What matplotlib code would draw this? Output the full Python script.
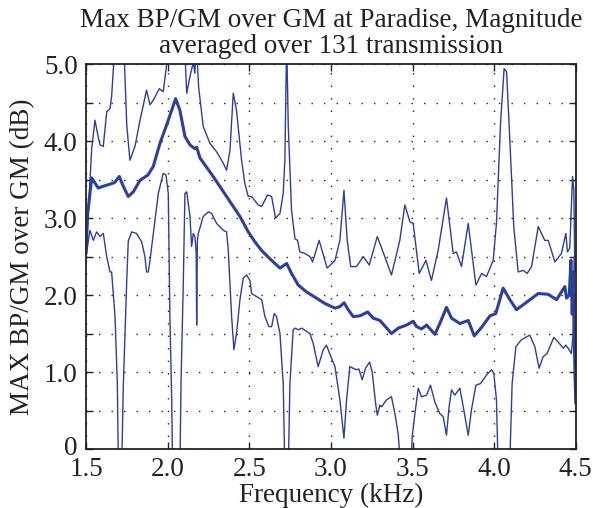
import matplotlib
matplotlib.use("Agg")
import matplotlib.pyplot as plt
from matplotlib.ticker import MultipleLocator, FixedLocator
from matplotlib.transforms import ScaledTranslation

plt.rcParams['font.family'] = ['Liberation Serif', 'DejaVu Serif']

title_text = "Max BP/GM over GM at Paradise, Magnitude\naveraged over 131 transmission"
xlabel_text = "Frequency (kHz)"
ylabel_text = "MAX BP/GM over GM (dB)"
xticks = [1.5, 2.0, 2.5, 3.0, 3.5, 4.0, 4.5]
xtick_labels = ["1.5", "2.0", "2.5", "3.0", "3.5", "4.0", "4.5"]
yticks = [0, 1, 2, 3, 4, 5]
ytick_labels = ["0", "1.0", "2.0", "3.0", "4.0", "5.0"]

mean_f = [1.500, 1.510, 1.535, 1.575, 1.616, 1.647, 1.675, 1.704, 1.729, 1.759, 1.790, 1.831,
          1.880, 1.912, 1.953, 1.994, 2.025, 2.049, 2.075, 2.106, 2.137, 2.167, 2.178, 2.198,
          2.279, 2.361, 2.402, 2.443, 2.494, 2.535, 2.575, 2.637, 2.688, 2.729, 2.759, 2.800,
          2.851, 2.912, 2.963, 3.025, 3.055, 3.081, 3.106, 3.137, 3.178, 3.225, 3.259, 3.300,
          3.351, 3.371, 3.412, 3.463, 3.504, 3.525, 3.555, 3.586, 3.637, 3.667, 3.708, 3.739,
          3.790, 3.841, 3.878, 3.923, 3.974, 4.010, 4.055, 4.096, 4.137, 4.188, 4.270, 4.330,
          4.382, 4.433, 4.443, 4.460, 4.470, 4.478, 4.485, 4.490, 4.495, 4.500]
mean_v = [2.55, 3.05, 3.52, 3.39, 3.42, 3.44, 3.46, 3.54, 3.41, 3.28, 3.34, 3.49,
          3.56, 3.67, 3.97, 4.21, 4.40, 4.55, 4.40, 4.06, 3.95, 3.90, 3.92, 3.78,
          3.54, 3.28, 3.15, 3.02, 2.82, 2.69, 2.58, 2.45, 2.35, 2.41, 2.28, 2.13,
          2.04, 1.96, 1.89, 1.83, 1.85, 1.90, 1.81, 1.72, 1.73, 1.78, 1.70, 1.67,
          1.55, 1.50, 1.57, 1.61, 1.66, 1.59, 1.56, 1.61, 1.49, 1.63, 1.84, 1.70,
          1.63, 1.67, 1.47, 1.58, 1.73, 1.76, 2.09, 1.94, 1.81, 1.89, 2.02, 2.01,
          1.94, 2.11, 1.96, 2.00, 2.45, 1.75, 2.30, 1.55, 0.95, 0.60]

upper_f = [1.500, 1.520, 1.535, 1.555, 1.575, 1.586, 1.606, 1.627, 1.647, 1.657, 1.671, 1.685,
           1.720, 1.735, 1.750, 1.769, 1.800, 1.831, 1.871, 1.892, 1.912, 1.949, 1.973, 1.994,
           2.010, 2.095, 2.110, 2.117, 2.137, 2.157, 2.167, 2.175, 2.190, 2.218, 2.259, 2.300,
           2.341, 2.361, 2.382, 2.402, 2.422, 2.453, 2.473, 2.494, 2.514, 2.555, 2.576, 2.612,
           2.637, 2.661, 2.688, 2.708, 2.718, 2.729, 2.739, 2.759, 2.780, 2.796, 2.810, 2.841,
           2.871, 2.888, 2.928, 2.977, 3.025, 3.055, 3.080, 3.100, 3.121, 3.157, 3.198, 3.235,
           3.284, 3.316, 3.371, 3.422, 3.453, 3.484, 3.504, 3.541, 3.582, 3.616, 3.657, 3.708,
           3.749, 3.769, 3.800, 3.841, 3.888, 3.923, 3.953, 3.994, 4.014, 4.039, 4.061, 4.076,
           4.096, 4.120, 4.147, 4.178, 4.202, 4.229, 4.270, 4.310, 4.331, 4.372, 4.412, 4.439,
           4.449, 4.463, 4.480, 4.488, 4.493, 4.500]
upper_v = [2.55, 3.30, 3.90, 4.27, 4.05, 3.95, 3.93, 4.38, 4.42, 4.58, 5.05, 5.60,
           5.60, 5.05, 4.20, 3.75, 3.93, 4.27, 4.66, 4.47, 4.53, 4.68, 4.64, 4.99,
           5.60, 5.60, 4.95, 4.62, 4.84, 5.02, 4.88, 5.30, 4.70, 4.19, 3.97, 3.86,
           3.71, 3.62, 3.88, 4.62, 4.40, 3.75, 3.45, 3.28, 3.28, 3.17, 3.15, 3.30,
           3.28, 3.00, 3.06, 3.32, 3.75, 5.30, 4.19, 3.10, 2.73, 2.71, 2.56, 2.54,
           2.50, 2.43, 2.71, 2.35, 2.45, 2.71, 3.36, 2.71, 2.37, 2.37, 2.50, 2.39,
           2.76, 2.58, 2.26, 2.71, 3.17, 2.95, 2.93, 2.28, 2.45, 2.19, 2.58, 3.26,
           2.54, 2.56, 2.37, 2.93, 2.13, 2.28, 2.24, 2.45, 2.93, 4.23, 4.94, 4.90,
           4.01, 2.89, 2.30, 2.32, 2.28, 2.37, 2.89, 2.71, 2.71, 2.43, 2.54, 2.80,
           2.56, 2.61, 3.54, 3.36, 2.50, 2.30]

lower_f = [1.500, 1.524, 1.545, 1.565, 1.586, 1.606, 1.627, 1.647, 1.657, 1.678, 1.692, 1.700,
           1.716, 1.729, 1.749, 1.759, 1.780, 1.810, 1.841, 1.861, 1.871, 1.882, 1.892, 1.902,
           1.943, 1.973, 1.990, 2.004, 2.014, 2.025, 2.032, 2.074, 2.082, 2.096, 2.106, 2.117,
           2.137, 2.147, 2.157, 2.167, 2.175, 2.178, 2.182, 2.188, 2.218, 2.249, 2.269, 2.300,
           2.341, 2.361, 2.371, 2.392, 2.406, 2.422, 2.443, 2.463, 2.484, 2.504, 2.514, 2.545,
           2.576, 2.596, 2.620, 2.637, 2.653, 2.667, 2.688, 2.708, 2.720, 2.737, 2.749, 2.769,
           2.780, 2.800, 2.821, 2.871, 2.892, 2.922, 2.953, 2.973, 3.000, 3.025, 3.055, 3.080,
           3.096, 3.116, 3.137, 3.157, 3.171, 3.192, 3.212, 3.237, 3.253, 3.274, 3.284, 3.300,
           3.311, 3.341, 3.371, 3.392, 3.412, 3.430, 3.490, 3.498, 3.514, 3.535, 3.555, 3.586,
           3.610, 3.637, 3.667, 3.688, 3.708, 3.724, 3.739, 3.759, 3.790, 3.814, 3.841, 3.861,
           3.888, 3.916, 3.953, 3.984, 3.998, 4.014, 4.025, 4.094, 4.110, 4.133, 4.167, 4.218,
           4.249, 4.275, 4.300, 4.324, 4.365, 4.392, 4.423, 4.439, 4.453, 4.473, 4.484, 4.490,
           4.495, 4.500]
lower_v = [2.50, 2.84, 2.71, 2.82, 2.76, 2.80, 2.50, 2.30, 2.30, 1.72, 0.85, -0.50,
           -0.50, 0.85, 2.15, 2.70, 2.82, 2.80, 2.69, 2.50, 2.30, 2.30, 2.45, 2.62,
           3.32, 3.58, 3.56, 3.32, 1.72, 0.64, -0.50, -0.50, 0.85, 2.15, 3.32, 3.34,
           3.02, 2.63, 2.80, 2.76, 2.55, 1.61, 2.70, 2.80, 3.02, 3.08, 3.06, 2.93,
           2.84, 2.82, 2.60, 1.72, 1.29, 1.50, 1.94, 2.22, 2.26, 2.19, 2.02, 1.98,
           1.94, 1.72, 1.59, 1.59, 1.76, 1.72, 1.50, 0.85, -0.50, -0.50, 0.85, 1.55,
           1.57, 1.55, 1.57, 1.50, 1.37, 1.07, 1.29, 1.35, 1.20, 1.07, 0.64, 0.14,
           0.64, 1.07, 1.05, 1.03, 1.04, 0.90, 1.05, 1.13, 1.00, 0.59, 0.44, 0.57,
           0.55, 0.64, 0.68, 0.46, 0.20, -0.30, -0.30, 0.16, 0.45, 0.79, 0.68, 0.70,
           0.83, 0.61, 0.46, 0.42, 0.18, 0.55, 0.77, 0.70, 0.79, 0.51, 0.18, 0.51,
           0.83, 0.85, 0.96, 1.03, 0.98, 0.64, -0.30, -0.30, 0.85, 1.33, 1.42, 1.48,
           1.33, 1.05, 1.20, 1.24, 1.45, 1.39, 1.31, 1.35, 1.31, 1.24, 1.50, 2.50,
           1.20, 0.70]

line_color = '#2b3f9f'
text_color = '#222222'
fs = 19.5

fig = plt.figure(figsize=(5.93, 5.08), dpi=100)
ax = fig.add_axes([0.145, 0.116, 0.826, 0.758])

ax.plot(upper_f, upper_v, color=line_color, lw=1.0)
ax.plot(lower_f, lower_v, color=line_color, lw=1.0)
ax.plot(mean_f, mean_v, color=line_color, lw=2.2)

ax.set_xlim(1.5, 4.5)
ax.set_ylim(0, 5)
ax.xaxis.set_major_locator(FixedLocator(xticks))
ax.set_xticklabels(xtick_labels)
ax.yaxis.set_major_locator(FixedLocator(yticks))
ax.set_yticklabels(ytick_labels)
ax.yaxis.set_minor_locator(MultipleLocator(0.5))

grid_style = dict(color=text_color, linestyle=(0, (1, 8)), linewidth=1.0)
ax.grid(True, which='major', axis='both', **grid_style)
ax.grid(True, which='minor', axis='y', **grid_style)

ax.tick_params(which='both', direction='in', top=True, right=True,
               length=5, width=1.0, labelsize=fs, pad=6, colors=text_color)
for s in ax.spines.values():
    s.set_linewidth(1.3)
    s.set_color(text_color)

# nudge the "0" y label slightly up so it does not collide with "1.5"
fig.canvas.draw()
ylabels = ax.get_yticklabels()
ylabels[0].set_transform(ylabels[0].get_transform() +
                         ScaledTranslation(0, 4 / 100, fig.dpi_scale_trans))

ax.set_title(title_text, fontsize=fs, pad=8, linespacing=1.05, color=text_color)
ax.set_xlabel(xlabel_text, fontsize=fs, labelpad=0, color=text_color)
ax.set_ylabel(ylabel_text, fontsize=fs, labelpad=6, color=text_color)

fig.savefig("out.png", dpi=100)
